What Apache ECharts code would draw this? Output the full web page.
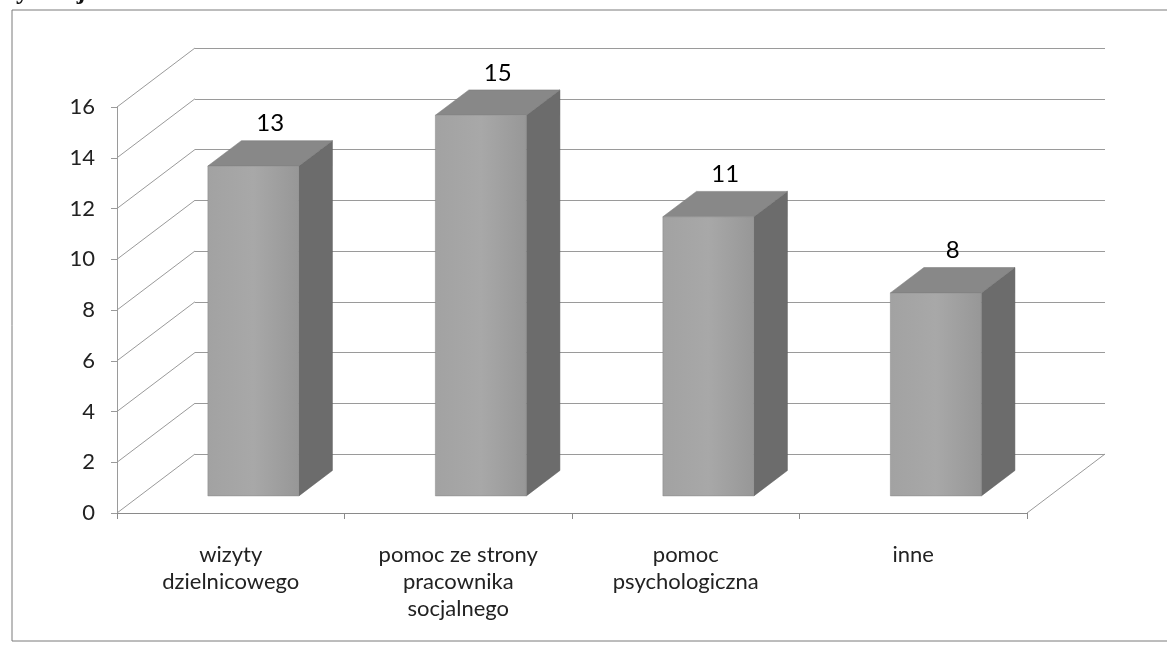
<!DOCTYPE html>
<html lang="pl">
<head>
    <meta charset="utf-8" />
    <title>Formy pomocy</title>
    <script type="text/javascript" src="https://cdn.jsdelivr.net/npm/echarts@6/dist/echarts.min.js"></script>
    <style type="text/css">
        html, body { margin: 0; padding: 0; background: #fff; }
        #main { width: 1167px; height: 645px; }
    </style>
</head>
<body>
    <div id="main"></div>
    <script type="text/javascript">

        // dane z wykresu
        var categories = ['wizyty\ndzielnicowego', 'pomoc ze strony\npracownika\nsocjalnego', 'pomoc\npsychologiczna', 'inne'];
        var values = [13, 15, 11, 8];
        var yTicks = [0, 2, 4, 6, 8, 10, 12, 14, 16];

        var fontName = 'Lato, "Open Sans", sans-serif';
        // wektor glebokosci "3D" (tyl sciany wzgledem przodu)
        var depthX = 78, depthY = -59;
        var barFront = 0.29, barBack = 0.72;

        var myChart = echarts.init(document.getElementById('main'));

        function renderBar(params, api) {
            var idx = api.value(0);
            var val = api.value(1);
            var top = api.coord([idx, val]);
            var base = api.coord([idx, 0]);
            var catW = api.size([1, 0])[0];
            var w = catW * 0.4;
            var ox = depthX * barFront, oy = depthY * barFront;
            var dx = depthX * (barBack - barFront), dy = depthY * (barBack - barFront);
            var x0 = top[0] - w / 2 + ox, x1 = x0 + w;
            var yt = top[1] + oy, yb = base[1] + oy;
            return {
                type: 'group',
                children: [{
                    type: 'polygon',
                    shape: { points: [[x1, yt], [x1 + dx, yt + dy], [x1 + dx, yb + dy], [x1, yb]] },
                    style: { fill: '#6c6c6c', stroke: '#5a5a5a', lineWidth: 0.5 }
                }, {
                    type: 'polygon',
                    shape: { points: [[x0, yt], [x1, yt], [x1 + dx, yt + dy], [x0 + dx, yt + dy]] },
                    style: { fill: '#888', stroke: '#777', lineWidth: 0.5 }
                }, {
                    type: 'rect',
                    shape: { x: x0, y: yt, width: w, height: yb - yt },
                    style: {
                        fill: new echarts.graphic.LinearGradient(0, 0, 1, 0, [
                            { offset: 0, color: '#a2a2a2' },
                            { offset: 0.5, color: '#a8a8a8' },
                            { offset: 1, color: '#979797' }
                        ]),
                        stroke: '#888', lineWidth: 0.5
                    }
                }, {
                    type: 'text',
                    style: {
                        text: String(val),
                        x: (x0 + x1) / 2 + dx / 2,
                        y: yt + dy - 5,
                        align: 'center',
                        verticalAlign: 'bottom',
                        font: '24px ' + fontName,
                        fill: '#000'
                    }
                }]
            };
        }

        function renderWall(params, api) {
            var v = api.value(0);
            var cs = params.coordSys;
            var y = api.coord([0, v])[1];
            var lineStyle = { stroke: '#9a9a9a', lineWidth: 1 };
            var children = [{
                type: 'line',
                shape: { x1: cs.x, y1: y, x2: cs.x + depthX, y2: y + depthY },
                style: lineStyle
            }];
            if (v === 0) {
                children.push({
                    type: 'line',
                    shape: { x1: cs.x + cs.width, y1: y, x2: cs.x + cs.width + depthX, y2: y + depthY },
                    style: lineStyle
                });
            }
            return { type: 'group', children: children };
        }

        var option = {
            backgroundColor: '#fff',
            animation: false,
            textStyle: { fontFamily: fontName },
            graphic: [{
                type: 'rect',
                shape: { x: 12, y: 10, width: 1165, height: 631 },
                style: { fill: 'none', stroke: '#7a7a7a', lineWidth: 1 },
                z: -1
            }, {
                type: 'text',
                x: 6, y: 5,
                style: {
                    text: 'sytuacji:',
                    font: 'bold 26px "Liberation Serif", serif',
                    fill: '#111',
                    verticalAlign: 'bottom'
                }
            }],
            grid: [
                { left: 117, top: 107, width: 910, height: 406 },
                { left: 117 + depthX, top: 107 + depthY, width: 910, height: 406 }
            ],
            xAxis: [{
                type: 'category',
                gridIndex: 0,
                data: categories,
                axisLine: { lineStyle: { color: '#8a8a8a', width: 1 } },
                axisTick: { show: true, length: 6, lineStyle: { color: '#8a8a8a' } },
                axisLabel: {
                    interval: 0, margin: 28, fontSize: 22, lineHeight: 27,
                    color: '#222', fontFamily: fontName
                },
                splitLine: { show: false }
            }, {
                type: 'category',
                gridIndex: 1,
                data: categories,
                show: false
            }],
            yAxis: [{
                type: 'value',
                gridIndex: 0,
                min: 0, max: 16, interval: 2,
                axisLine: { show: true, lineStyle: { color: '#9a9a9a', width: 1 } },
                axisTick: { show: true, length: 6, lineStyle: { color: '#9a9a9a' } },
                axisLabel: { margin: 22, fontSize: 22, color: '#222', fontFamily: fontName },
                splitLine: { show: false }
            }, {
                type: 'value',
                gridIndex: 1,
                min: 0, max: 16, interval: 2,
                axisLine: { show: false },
                axisTick: { show: false },
                axisLabel: { show: false },
                splitLine: { show: true, lineStyle: { color: '#9a9a9a', width: 1 } }
            }],
            series: [{
                name: 'sciana',
                type: 'custom',
                xAxisIndex: 0,
                yAxisIndex: 0,
                renderItem: renderWall,
                encode: { y: 0 },
                data: yTicks.map(function (t) { return [t]; }),
                clip: false,
                silent: true,
                z: 1
            }, {
                name: 'odpowiedzi',
                type: 'custom',
                xAxisIndex: 0,
                yAxisIndex: 0,
                renderItem: renderBar,
                encode: { x: 0, y: 1 },
                data: values.map(function (v, i) { return [i, v]; }),
                clip: false,
                z: 3
            }]
        };
        myChart.setOption(option, true);
    </script>
</body>
</html>
